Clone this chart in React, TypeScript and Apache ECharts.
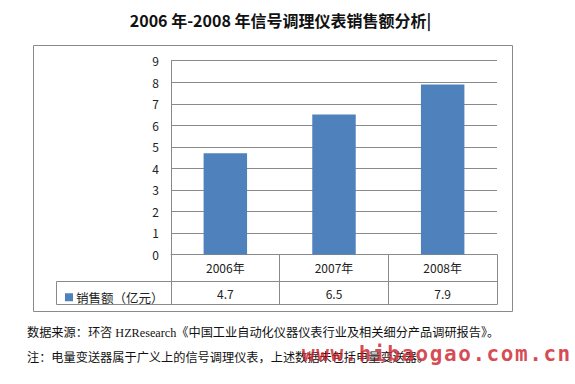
import React, { useEffect, useRef } from "react";
import * as echarts from "echarts";

const categories = ["2006年", "2007年", "2008年"];
const sales = [4.7, 6.5, 7.9];
const seriesName = "销售额（亿元）";
const yMin = 0;
const yMax = 9;
const yInterval = 1;
const titleText = "2006 年-2008 年信号调理仪表销售额分析|";
const footer1 = "数据来源：环咨 HZResearch《中国工业自动化仪器仪表行业及相关细分产品调研报告》。";
const footer2 = "注：电量变送器属于广义上的信号调理仪表，上述数据未包括电量变送器。";
const watermark = "www.hibaogao.com.cn";

const GREY = "#8a8a8a";
const SANS = "'Noto Sans CJK SC', 'Microsoft YaHei', sans-serif";
const SERIF = "'Liberation Serif', 'Noto Sans CJK SC', serif";

export default function App() {
  const ref = useRef<HTMLDivElement>(null);
  useEffect(() => {
    document.body.style.margin = "0";
    const chart = echarts.init(ref.current!, null, { renderer: "svg" });
    const wmChars = watermark.split("").map((ch, i) => ({
      type: "text",
      x: 302 + i * 14.2,
      y: 354,
      style: {
        text: ch,
        fill: "rgba(205,35,45,0.82)",
        font: "bold 21px 'DejaVu Sans Mono', monospace",
        textAlign: "left",
        textVerticalAlign: "middle",
      },
      z: 100,
    }));
    chart.setOption({
      animation: false,
      backgroundColor: "#ffffff",
      grid: { left: 171, right: 78, top: 60.7, bottom: 129.5, containLabel: false },
      legend: {
        show: true,
        left: 60,
        top: 286,
        itemWidth: 8,
        itemHeight: 8,
        icon: "rect",
        itemGap: 3,
        textStyle: { fontFamily: SANS, fontSize: 12.5, color: "#222", padding: [0, 0, 0, -2] },
        data: [seriesName],
      },
      xAxis: [
        {
          type: "category",
          data: categories,
          position: "bottom",
          boundaryGap: true,
          axisLine: { show: true, lineStyle: { color: GREY, width: 1 } },
          axisTick: { show: true, length: 50, interval: 0, lineStyle: { color: GREY, width: 1 } },
          axisLabel: { interval: 0, margin: 7, fontFamily: SANS, fontSize: 12, color: "#222" },
        },
        {
          type: "category",
          data: categories,
          position: "bottom",
          offset: 27,
          axisLine: { show: true, lineStyle: { color: GREY, width: 1 } },
          axisTick: { show: false },
          axisLabel: {
            interval: 0,
            margin: 6,
            fontFamily: SANS,
            fontSize: 12,
            color: "#222",
            formatter: (_v: string, i: number) => String(sales[i]),
          },
        },
        {
          type: "category",
          data: categories,
          position: "bottom",
          offset: 50,
          axisLine: { show: true, lineStyle: { color: GREY, width: 1 } },
          axisTick: { show: false },
          axisLabel: { show: false },
        },
      ],
      yAxis: {
        type: "value",
        min: yMin,
        max: yMax,
        interval: yInterval,
        axisLine: { show: true, lineStyle: { color: GREY, width: 1 } },
        axisTick: { show: false },
        axisLabel: { margin: 12, fontFamily: SANS, fontSize: 12, color: "#222" },
        splitLine: { show: true, lineStyle: { color: GREY, width: 1 } },
      },
      series: [
        {
          name: seriesName,
          type: "bar",
          xAxisIndex: 0,
          data: sales,
          barWidth: "40%",
          itemStyle: { color: "#4F81BD" },
        },
      ],
      graphic: [
        {
          type: "rect",
          shape: { x: 33.5, y: 45.5, width: 479, height: 266 },
          style: { fill: "none", stroke: GREY, lineWidth: 1 },
          z: -1,
        },
        {
          type: "rect",
          shape: { x: 56.5, y: 281.5, width: 115, height: 23 },
          style: { fill: "none", stroke: GREY, lineWidth: 1 },
        },
        {
          type: "text",
          x: 280.5,
          y: 20,
          style: {
            text: titleText,
            font: `bold 16px ${SANS}`,
            fill: "#111",
            textAlign: "center",
            textVerticalAlign: "middle",
          },
        },
        {
          type: "text",
          x: 27,
          y: 333,
          style: {
            text: footer1,
            font: `12.2px ${SERIF}`,
            fill: "#111",
            textAlign: "left",
            textVerticalAlign: "middle",
          },
        },
        {
          type: "text",
          x: 27,
          y: 358,
          style: {
            text: footer2,
            font: `12.2px ${SERIF}`,
            fill: "#111",
            textAlign: "left",
            textVerticalAlign: "middle",
          },
        },
        ...wmChars,
      ],
    });
    return () => chart.dispose();
  }, []);
  return <div ref={ref} style={{ width: 575, height: 384 }} />;
}
